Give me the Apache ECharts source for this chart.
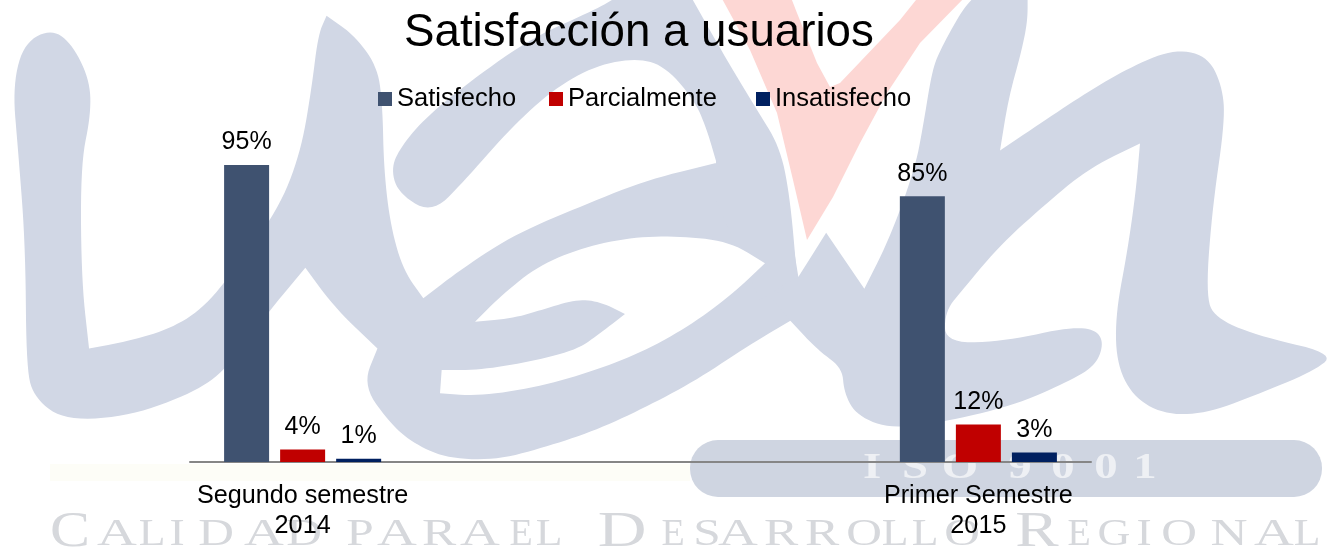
<!DOCTYPE html>
<html><head><meta charset="utf-8">
<script src="https://cdn.jsdelivr.net/npm/echarts@6/dist/echarts.min.js"></script>
<style>html,body{margin:0;padding:0;background:#fff}#c{width:1329px;height:549px}</style></head>
<body><div id="c"></div>
<script>
const categories = ['Segundo semestre\n2014', '', '', 'Primer Semestre\n2015'];
const satisfecho = [95, null, null, 85];
const parcialmente = [4, null, null, 12];
const insatisfecho = [1, null, null, 3];

// --- decorative watermark (logo behind the chart) ---
const L = (x, y) => [x / 2.358, y / 2.856];
const R = (x, y) => [665 + x / 2.358, y / 2.856];
const C = (x, y) => [380 + x / 3, 150 + y / 3];
const P = (x, y) => [x, y];
// third element 1 marks a sharp corner
const map = (f, a) => a.map(p => { const q = f(p[0], p[1]); q[2] = p[2] || 0; return q; });
function round(pts) {
  const out = [], n = pts.length;
  for (let i = 0; i < n; i++) {
    const a = pts[(i + n - 1) % n], b = pts[i], c = pts[(i + 1) % n];
    const s = [(a[0] + b[0]) / 2, (a[1] + b[1]) / 2], e = [(b[0] + c[0]) / 2, (b[1] + c[1]) / 2];
    if (b[2]) { out.push(s, [b[0], b[1]]); continue; }
    for (let k = 0; k < 8; k++) {
      const t = k / 8, u = 1 - t;
      out.push([u*u*s[0] + 2*u*t*b[0] + t*t*e[0], u*u*s[1] + 2*u*t*b[1] + t*t*e[1]]);
    }
  }
  return out;
}
const uShape = [].concat(
  map(L, [[120,82],[170,125],[212,230],[214,330],[190,470],[192,800],[210,995,1],[300,975],[400,940],[480,880],[560,760],[660,590],[710,430],[735,250],[750,100],[770,45,1],[835,100],[890,190],[902,300],[905,480],[920,640],[950,770]]),
  map(C, [[130,445,1],[240,360],[400,255],[600,170],[800,90],[1005,40,1],[1200,40,1],[1255,380,1],[1235,510,1],[1100,590],[950,690],[800,770],[650,840],[500,890],[350,930],[200,925],[100,880],[30,820]]),
  map(L, [[855,1100],[890,995,1],[790,880],[720,765,1],[620,910],[530,1060],[450,1125],[300,1190],[150,1200],[80,1135],[62,1050],[60,700],[42,420],[30,250],[55,125]])
);
const archShape = [].concat(
  map(L, [[922,480],[945,420],[1000,340],[1100,240],[1250,110],[1400,30],[1450,-5,1]]),
  map(P, [[690,-5,1],[725,57],[757,110],[780,147],[790,197],[797,277,1],[760,300,1],[716,200,1],[716,161,1],[707,130],[695,101],[665,66],[636,58],[594,66],[551,91],[509,130],[466,179],[432,214],[398,193]])
);
const mShape = map(R, [[315,790,1],[380,665,1],[470,825,1],[530,680],[590,480],[610,350],[630,200],[650,140],[700,30],[730,-10,1],[855,-10,1],[855,60],[840,150],[810,280],[790,430,1],[900,340],[1000,260],[1100,190],[1200,140],[1280,160],[1315,250],[1320,350],[1290,600],[1275,850],[1300,910],[1400,960],[1580,1010],[1530,1060],[1400,1125],[1280,1180],[1180,1185],[1105,1135],[1065,1040],[1062,900],[1090,720],[1110,550],[1120,410,1],[1000,480],[900,580],[790,700],[700,830],[660,890],[660,980],[800,975],[950,935],[1015,940],[1035,980],[1015,1045],[950,1090],[830,1155],[660,1205],[530,1225],[450,1185],[422,1120],[418,1050],[360,1000],[295,915,1],[250,850,1]]);
const leafHole = map(C, [[285,515,1],[360,440],[470,350],[600,295],[750,262],[900,258],[1050,275],[1155,340,1],[1060,430],[940,520],[800,600],[650,660],[480,710],[300,738],[180,730,1],[185,660,1],[300,660],[450,635],[590,600],[660,550],[735,492,1],[660,455],[590,448],[500,475],[400,505]]);
const vShape = [[720,-5],[750,50],[777,113],[793,180],[807,240],[833,197],[860,143],[887,93],[920,43],[967,-5],[920,-5],[900,20],[840,83],[830,87],[817,63],[797,13],[790,-5]];
const mottoBig = [['C',70,1.2],['D',622,1.35],['R',1037,1.3]];
const mottoScale = {A:1.45, D:1.3, P:1.3, R:1.35, O:1.3, G:1.2, N:1.35, S:1.3, E:1.0, L:1.15, I:1.2};
const mottoSmall = [['A',117],['L',152],['I',177],['D',216],['A',264],['D',304],['P',360],['A',397],['R',439],['A',480],['E',521],['L',549],['E',673],['S',707],['A',738],['R',781],['R',822],['O',864],['L',895],['L',925],['O',962],['E',1079],['G',1114],['I',1144],['O',1179],['N',1229],['A',1274],['L',1307]];
const isoLetters = [['I',872],['S',915],['O',960],['9',1020],['0',1063],['0',1106],['1',1145]];

const BLUE = '#d1d7e5';
const poly = (points, fill) => ({type:'polygon', silent:true, z:-5, shape:{points}, style:{fill}});
const graphics = [
  poly(vShape, '#fdd7d4'),
  poly(round(uShape), BLUE),
  poly(round(archShape), BLUE),
  poly(round(mShape), BLUE),
  poly(round(leafHole), '#ffffff'),
  {type:'rect', silent:true, z:-5, shape:{x:50,y:464,width:640,height:17}, style:{fill:'#fdfdf7'}},
  {type:'rect', silent:true, z:-5, shape:{x:690,y:440,width:632,height:57,r:28}, style:{fill:'#cfd5e1'}}
];
isoLetters.forEach(l => graphics.push({type:'text', silent:true, z:-4, x:l[1], y:469, scaleX:1.3,
  style:{text:l[0], fill:'#eef0f4', font:'bold 36px "Liberation Serif"', align:'center', verticalAlign:'middle'}}));
mottoBig.forEach(l => graphics.push({type:'text', silent:true, z:-4, x:l[1], y:558, scaleX:l[2],
  style:{text:l[0], fill:'#d6d8dc', font:'50px "Liberation Serif"', align:'center', verticalAlign:'bottom'}}));
mottoSmall.forEach(l => graphics.push({type:'text', silent:true, z:-4, x:l[1], y:554, scaleX:mottoScale[l[0]],
  style:{text:l[0], fill:'#d6d8dc', font:'38px "Liberation Serif"', align:'center', verticalAlign:'bottom'}}));

const FONT = '"Liberation Sans", sans-serif';
const mk = (name, data, color) => ({
  name, type:'bar', data, barWidth:45, barGap:'24.5%',
  itemStyle:{color},
  label:{show:true, position:'top', distance:10, formatter:'{c}%', color:'#000', fontFamily:FONT, fontSize:25}
});
const lg = (left, name) => ({left, top:81, itemWidth:14, itemHeight:14, itemGap:0, icon:'rect',
  textStyle:{fontFamily:FONT, fontSize:25.5, color:'#000'}, data:[name]});
const chart = echarts.init(document.getElementById('c'), null, {renderer:'canvas'});
chart.setOption({
  animation:false,
  backgroundColor:'#ffffff',
  graphic:graphics,
  title:{text:'Satisfacción a usuarios', left:399, top:5, textStyle:{fontFamily:FONT, fontWeight:'normal', fontSize:45.7, color:'#000'}},
  legend:[lg(373,'Satisfecho'), lg(544,'Parcialmente'), lg(751,'Insatisfecho')],
  grid:{left:190, right:238, top:149.4, bottom:87, containLabel:false},
  xAxis:{type:'category', data:categories, axisTick:{show:false},
    axisLine:{lineStyle:{color:'#868686', width:2}},
    axisLabel:{interval:0, color:'#000', fontFamily:FONT, fontSize:25.2, lineHeight:30, margin:19}},
  yAxis:{type:'value', min:0, max:100, show:false, splitLine:{show:false}},
  series:[mk('Satisfecho', satisfecho, '#3f5270'), mk('Parcialmente', parcialmente, '#c00000'), mk('Insatisfecho', insatisfecho, '#002060')]
});
</script></body></html>
